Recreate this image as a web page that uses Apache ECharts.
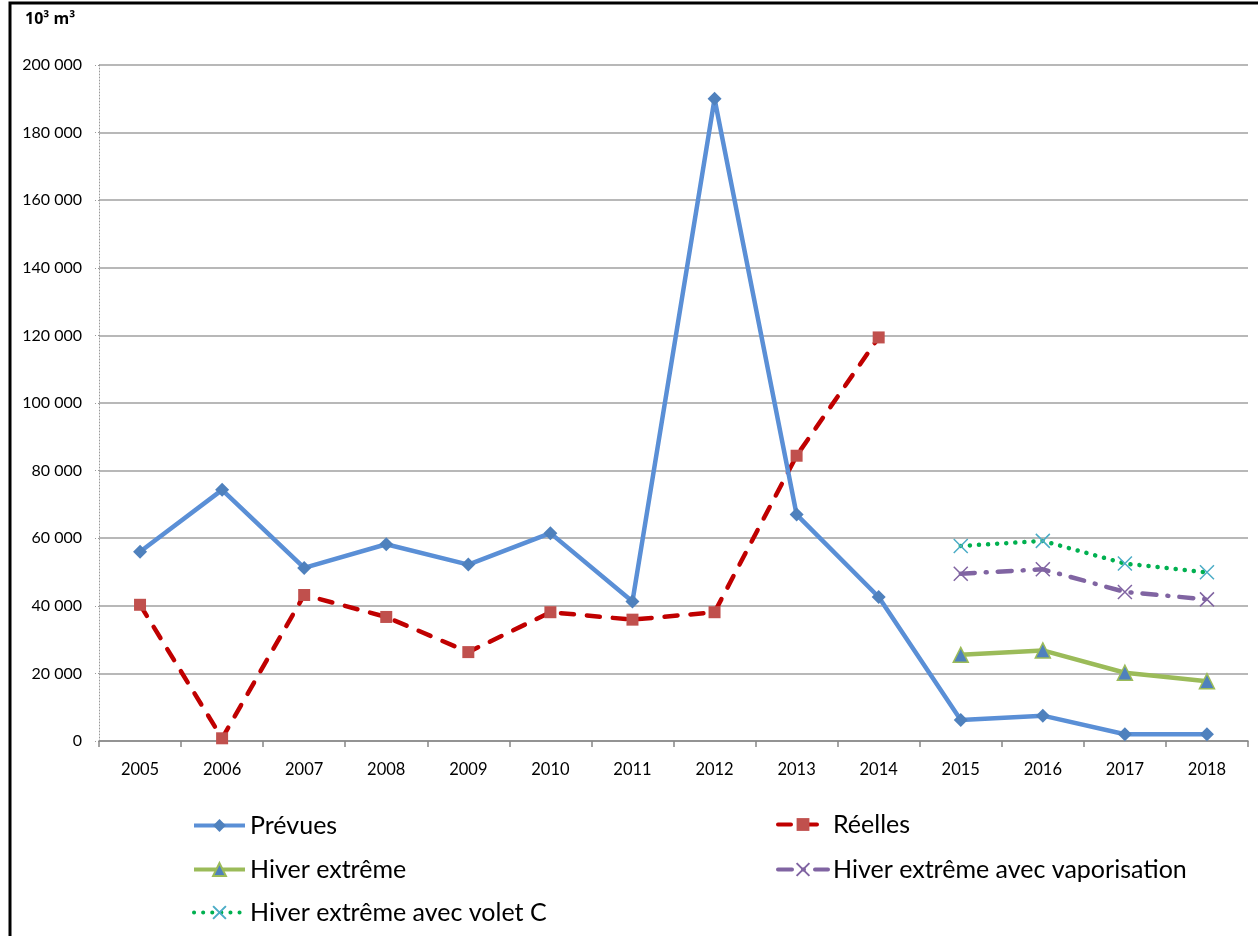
<!DOCTYPE html>
<html>
<head>
<meta charset="utf-8">
<script src="https://cdn.jsdelivr.net/npm/echarts@6/dist/echarts.min.js"></script>
<style>
html,body{margin:0;padding:0;background:#fff;}
#c{width:1258px;height:936px;}
</style>
</head>
<body>
<div id="c"></div>
<script>
var years = ['2005','2006','2007','2008','2009','2010','2011','2012','2013','2014','2015','2016','2017','2018'];
var prevues = [56000, 74300, 51200, 58200, 52200, 61500, 41300, 190000, 67000, 42600, 6200, 7500, 2000, 2000];
var reelles = [40300, 800, 43200, 36700, 26300, 38100, 35900, 38100, 84400, 119400, null, null, null, null];
var hiverExtreme = [null, null, null, null, null, null, null, null, null, null, 25500, 26800, 20200, 17700];
var hiverVapo = [null, null, null, null, null, null, null, null, null, null, 49500, 50800, 44100, 41900];
var hiverVoletC = [null, null, null, null, null, null, null, null, null, null, 57700, 59200, 52500, 49900];
var unitLabel = '10³ m³';

var FONT = 'Lato, "Open Sans", sans-serif';
var crossPath = 'path://M0,0L10,10M10,0L0,10';

function fmt(v){ return String(v).replace(/\B(?=(\d{3})+(?!\d))/g, ' '); }

var chart = echarts.init(document.getElementById('c'), null, {renderer:'canvas'});

function leg(name, left, top, w){
  return {
    data:[name], left:left, top:top, orient:'horizontal', padding:0,
    itemWidth:w, itemHeight:16, itemGap:0,
    lineStyle:{width:4},
    textStyle:{fontFamily:FONT, fontSize:25, color:'#000'},
    selectedMode:false
  };
}

chart.setOption({
  animation:false,
  backgroundColor:'#fff',
  graphic:[
    {type:'rect', shape:{x:10, y:3, width:1400, height:1100}, style:{fill:'none', stroke:'#000', lineWidth:3}, silent:true},
    {type:'text', left:25, top:11, style:{text:unitLabel, fontFamily:'"Open Sans", sans-serif', fontSize:16, fontWeight:'bold', fill:'#000'}}
  ],
  grid:{left:99, right:10, top:65, bottom:195, containLabel:false},
  legend:[
    leg('Prévues', 192, 813, 51),
    leg('Hiver extrême', 192, 857, 51),
    leg('Hiver extrême avec volet C', 192, 900, 51),
    leg('Réelles', 776, 812, 50),
    leg('Hiver extrême avec vaporisation', 776, 857, 50)
  ],
  xAxis:{
    type:'category', data:years, boundaryGap:true,
    axisLine:{lineStyle:{color:'#868686', width:1.5}},
    axisTick:{show:true, length:6, lineStyle:{color:'#868686', width:1.5}},
    axisLabel:{fontFamily:FONT, fontSize:16.5, color:'#000', margin:20},
    splitLine:{show:false}
  },
  yAxis:{
    type:'value', min:0, max:200000, interval:20000,
    axisLine:{show:true, lineStyle:{color:'#9a9a9a', width:1, type:[1,2]}},
    axisTick:{show:true, length:6, lineStyle:{color:'#9a9a9a', width:1, type:[1,2]}},
    axisLabel:{fontFamily:FONT, fontSize:16, color:'#000', margin:17, formatter:fmt},
    splitLine:{show:true, lineStyle:{color:'#a0a0a0', width:1.5}}
  },
  series:[
    {
      name:'Prévues', type:'line', data:prevues,
      symbol:'diamond', symbolSize:14,
      lineStyle:{color:'#5a8fd6', width:4.5},
      itemStyle:{color:'#4f81bd'},
      z:3
    },
    {
      name:'Réelles', type:'line', data:reelles,
      symbol:'rect', symbolSize:12,
      lineStyle:{color:'#c00000', width:4.5, type:[13,13], cap:'round'},
      itemStyle:{color:'#c0504d'},
      z:2
    },
    {
      name:'Hiver extrême', type:'line', data:hiverExtreme,
      symbol:'triangle', symbolSize:15,
      lineStyle:{color:'#9bbb59', width:4.5},
      itemStyle:{color:'#4f81bd', borderColor:'#9bbb59', borderWidth:1.5},
      z:2
    },
    {
      name:'Hiver extrême avec vaporisation', type:'line', data:hiverVapo,
      symbol:crossPath, symbolSize:14,
      lineStyle:{color:'#8064a2', width:4.5, type:[14,11,1,11], cap:'round'},
      itemStyle:{color:'rgba(0,0,0,0)', borderColor:'#8064a2', borderWidth:1.5},
      z:2
    },
    {
      name:'Hiver extrême avec volet C', type:'line', data:hiverVoletC,
      symbol:crossPath, symbolSize:14,
      lineStyle:{color:'#00b050', width:4.5, type:[0.1,9], cap:'round'},
      itemStyle:{color:'rgba(0,0,0,0)', borderColor:'#4bacc6', borderWidth:1.5},
      z:2
    }
  ]
});
</script>
</body>
</html>
